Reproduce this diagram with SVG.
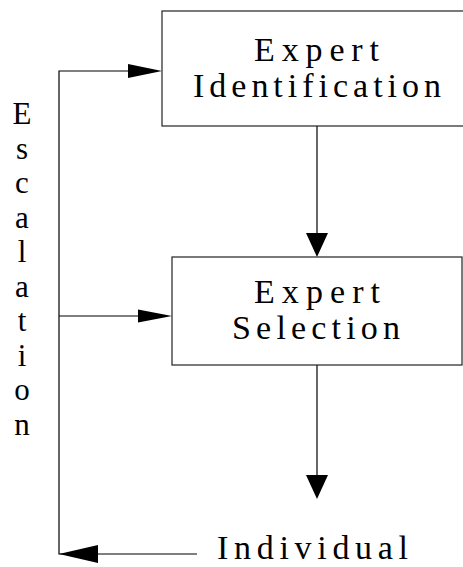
<svg xmlns="http://www.w3.org/2000/svg" width="463" height="567" viewBox="0 0 463 567">
<style>
.box{fill:#fff;stroke:#222;stroke-width:1.2}
.ln{fill:none;stroke:#000;stroke-width:1.2}
.hd{fill:#000;stroke:none}
.t{font-family:"Liberation Serif","Times New Roman",serif;font-size:34px;fill:#000}
.v{font-family:"Liberation Serif","Times New Roman",serif;font-size:31px;fill:#000;text-anchor:middle}
</style>
<rect width="463" height="567" fill="#fff"/>
<g id="connectors">
<polyline class="ln" points="197,554 59,554 59,71 130,71"/>
<line class="ln" x1="59" y1="316" x2="140" y2="316"/>
<polygon class="hd" points="162,71 128,64 128,78"/>
<polygon class="hd" points="172,316 138,309.5 138,322.5"/>
<line class="ln" x1="317" y1="126" x2="317" y2="235"/>
<polygon class="hd" points="317,257 306,233 328,233"/>
<line class="ln" x1="317" y1="365" x2="317" y2="477"/>
<polygon class="hd" points="317,499 306,475 328,475"/>
<polygon class="hd" points="59,554 98,545 98,563"/>
</g>
<g id="expert-identification">
<rect class="box" x="162" y="11" width="310" height="115"/>
<text class="t" x="254" y="61" textLength="125" lengthAdjust="spacing">Expert</text>
<text class="t" x="193" y="97" textLength="248" lengthAdjust="spacing">Identification</text>
</g>
<g id="expert-selection">
<rect class="box" x="172" y="257" width="290" height="108"/>
<text class="t" x="254" y="303" textLength="126" lengthAdjust="spacing">Expert</text>
<text class="t" x="232" y="339" textLength="168" lengthAdjust="spacing">Selection</text>
</g>
<g id="individual">
<text class="t" x="217" y="559" textLength="191" lengthAdjust="spacing">Individual</text>
</g>
<g id="escalation">
<text class="v" x="22" y="124">E</text>
<text class="v" x="22" y="158.5">s</text>
<text class="v" x="22" y="193">c</text>
<text class="v" x="22" y="227.5">a</text>
<text class="v" x="22" y="262">l</text>
<text class="v" x="22" y="296.5">a</text>
<text class="v" x="22" y="331">t</text>
<text class="v" x="22" y="365.5">i</text>
<text class="v" x="22" y="400">o</text>
<text class="v" x="22" y="434.5">n</text>
</g>
</svg>
